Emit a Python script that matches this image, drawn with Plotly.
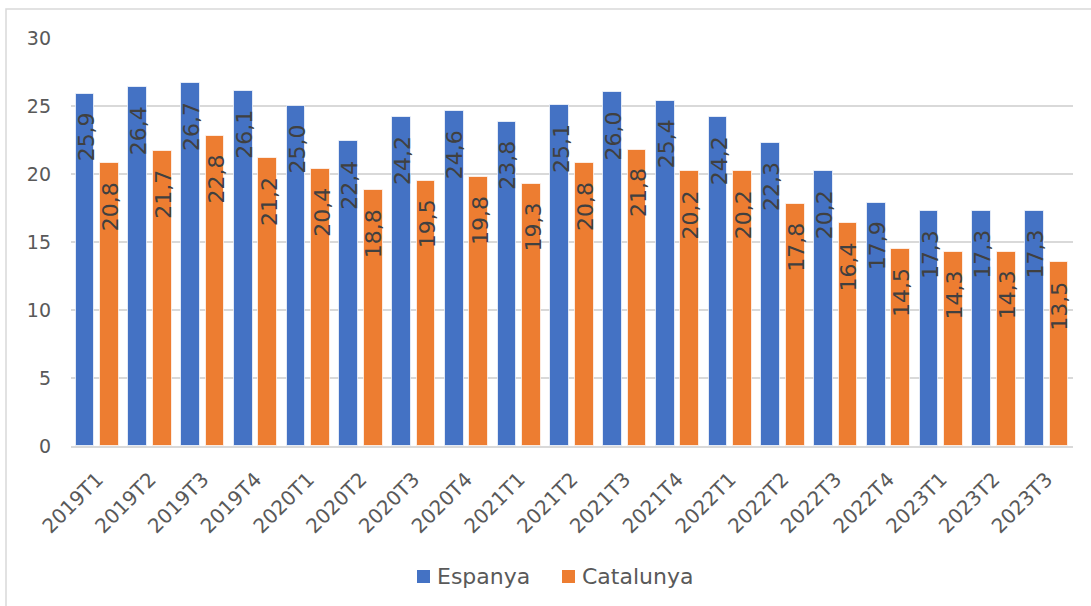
import plotly.graph_objects as go

# Quarterly values, Espanya vs Catalunya
quarters = ["2019T1", "2019T2", "2019T3", "2019T4",
            "2020T1", "2020T2", "2020T3", "2020T4",
            "2021T1", "2021T2", "2021T3", "2021T4",
            "2022T1", "2022T2", "2022T3", "2022T4",
            "2023T1", "2023T2", "2023T3"]
espanya = [25.9, 26.4, 26.7, 26.1, 25.0, 22.4, 24.2, 24.6, 23.8, 25.1,
           26.0, 25.4, 24.2, 22.3, 20.2, 17.9, 17.3, 17.3, 17.3]
catalunya = [20.8, 21.7, 22.8, 21.2, 20.4, 18.8, 19.5, 19.8, 19.3, 20.8,
             21.8, 20.2, 20.2, 17.8, 16.4, 14.5, 14.3, 14.3, 13.5]
y_ticks = [0, 5, 10, 15, 20, 25, 30]
series_names = ["Espanya", "Catalunya"]

FONT = "Verdana, DejaVu Sans, sans-serif"
BLUE = "#4472C4"
ORANGE = "#ED7D31"
GRID = "#D9D9D9"
TXT = "#595959"
LBL = "#404040"

# plot-area geometry in pixels (used to place the legend and frame)
W, H = 1091, 606
L, R, T, B = 71, 18, 38, 160
PW, PH = W - L - R, H - T - B


def px_x(px):
    return (px - L) / PW


def px_y(py):
    return (H - B - py) / PH


pos = list(range(len(quarters)))
BAR_W = 0.355
OFF_ES = -0.41
OFF_CA = 0.055

fig = go.Figure()
for name, vals, col, off in ((series_names[0], espanya, BLUE, OFF_ES),
                             (series_names[1], catalunya, ORANGE, OFF_CA)):
    fig.add_trace(go.Bar(
        name=name, x=pos, y=vals, width=BAR_W, offset=off,
        marker=dict(color=col, line=dict(color="rgba(255,255,255,0.7)", width=1)),
        hovertemplate="%{y}<extra>" + name + "</extra>",
    ))


def fmt(v):
    return f"{v:.1f}".replace(".", ",")


# value labels, rotated, just inside the top end of each bar
annotations = []
for vals, off in ((espanya, OFF_ES), (catalunya, OFF_CA)):
    for i, v in enumerate(vals):
        annotations.append(dict(
            x=i + off + BAR_W / 2, y=v, xref="x", yref="y",
            text=fmt(v), showarrow=False, textangle=-90,
            xanchor="center", yanchor="top", yshift=-17, xshift=1,
            font=dict(family=FONT, size=22, color=LBL),
        ))

# legend drawn as swatches + labels below the axis labels
legend_items = [(series_names[0], BLUE, 417), (series_names[1], ORANGE, 562)]
shapes = [dict(type="rect", xref="paper", yref="paper",
               x0=px_x(6), y0=-0.6, x1=1.3, y1=px_y(9),
               line=dict(color="#D9D9D9", width=1.5), layer="below")]
for name, col, x0 in legend_items:
    shapes.append(dict(type="rect", xref="paper", yref="paper",
                       x0=px_x(x0), x1=px_x(x0 + 13),
                       y0=px_y(583), y1=px_y(570),
                       fillcolor=col, line=dict(width=0)))
    annotations.append(dict(
        x=px_x(x0 + 18), y=px_y(576.5), xref="paper", yref="paper",
        text=name, showarrow=False, xanchor="left", yanchor="middle",
        font=dict(family=FONT, size=22, color=TXT),
    ))

fig.update_layout(
    width=W, height=H,
    margin=dict(l=L, r=R, t=T, b=B),
    paper_bgcolor="white", plot_bgcolor="white",
    font=dict(family=FONT, color=TXT),
    showlegend=False,
    annotations=annotations,
    shapes=shapes,
    bargap=0, barmode="overlay",
)
fig.update_xaxes(
    range=[-0.5, len(quarters) - 0.5],
    tickmode="array", tickvals=pos, ticktext=quarters,
    tickangle=-45, tickfont=dict(family=FONT, size=20, color=TXT),
    showgrid=False, zeroline=False,
    showline=True, linecolor=GRID, linewidth=1.5,
    ticks="", ticklabelstandoff=12,
)
fig.update_yaxes(
    range=[0, 30], tickmode="array", tickvals=y_ticks,
    tickfont=dict(family=FONT, size=19, color=TXT),
    showgrid=True, gridcolor=GRID, gridwidth=1.5,
    zeroline=False, showline=False, ticks="",
    ticklabelstandoff=19,
)

fig.write_html("out.html")
